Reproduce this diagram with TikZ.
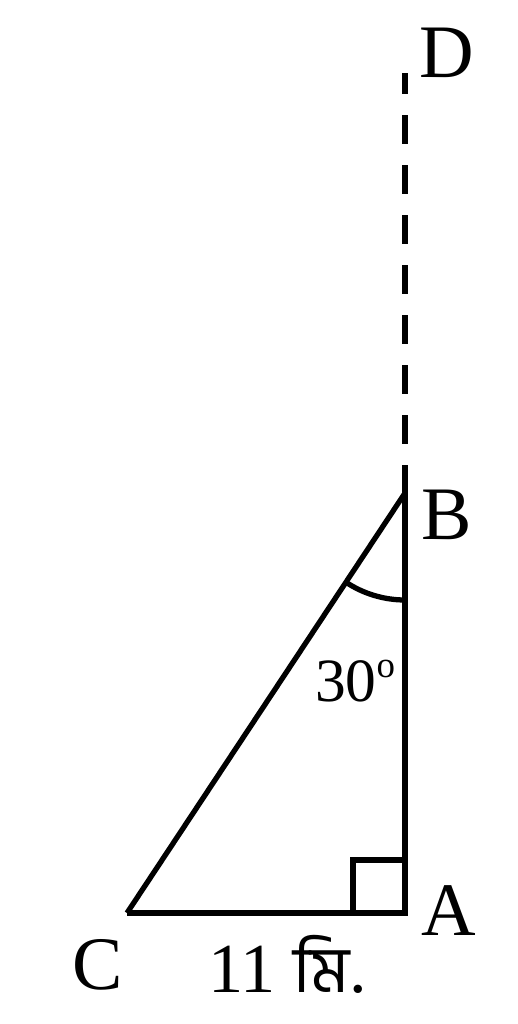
\documentclass[tikz,border=0pt]{standalone}
\usepackage{fontspec}
\setmainfont{Liberation Serif}
\newfontfamily\bnfont[Script=Bengali]{Hind Siliguri}
\usetikzlibrary{positioning}

\begin{document}
\begin{tikzpicture}[lbl/.style={inner sep=0pt,anchor=base,font=\fontsize{43}{43}\selectfont},
  side/.style={line width=3pt}]
\useasboundingbox (0,0) rectangle (10.36,20.48);
\coordinate (A) at (8.10,2.22);
\coordinate (B) at (8.10,10.62);
\coordinate (C) at (2.54,2.22);
\coordinate (E) at (8.10,11.18);
\coordinate (D) at (8.10,19.02);
% triangle
\path[draw,side,line join=miter] (C) -- (A) -- (E);
\path[draw,side] (A) -- (B) -- (C);
\path[draw,side,dash pattern=on 0.58cm off 0.42cm,dash phase=0.58cm] (E) -- (D);
% right angle and angle mark
\path[draw,side] ([yshift=1.06cm]A) -- ++(-1.04,0) -- ++(0,-1.06);
\path[draw,side] ([yshift=-2.14cm]B) arc[start angle=270,end angle=236.5,radius=2.14cm];
% labels
\node[lbl] (lA) at (8.98,1.78) {A};
\node[lbl] (lB) at (8.94,9.68) {B};
\node[lbl] (lC) at (1.96,0.68) {C};
\node[lbl] (lD) at (8.94,18.92) {D};
\node[lbl,font=\fontsize{35}{35}\selectfont] (ang) at (7.10,6.44) {30\raisebox{14pt}{\fontsize{21}{21}\selectfont o}};
\node[lbl,anchor=base west,text depth=0pt,font=\fontsize{40}{40}\selectfont] (len) at (4.16,0.62) {11 {\bnfont\fontsize{37}{37}\selectfont মি}.};
\end{tikzpicture}
\end{document}
